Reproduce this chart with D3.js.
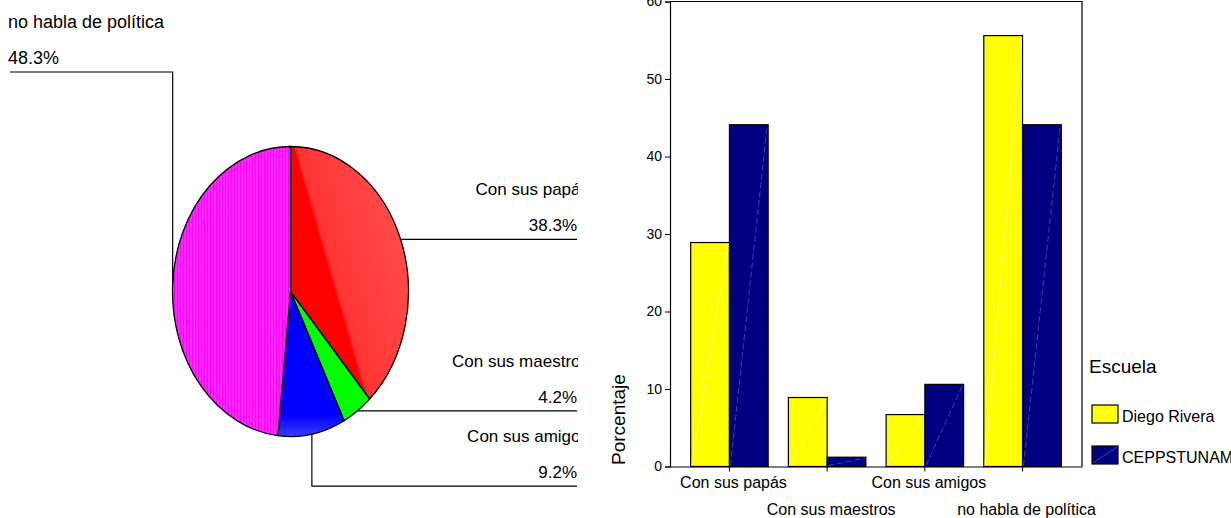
<!DOCTYPE html>
<html>
<head>
<meta charset="utf-8">
<script src="https://cdn.jsdelivr.net/npm/d3@7"></script>
<style>
  body { margin: 0; background: #fff; }
  svg { display: block; font-family: "Liberation Sans", Arial, sans-serif; }
</style>
</head>
<body>
<svg id="chart" width="1231" height="518"></svg>
<script>
// pie data (total)
const pieLabels = ["Con sus papás", "Con sus maestros", "Con sus amigos", "no habla de política"];
const pieValues = [38.3, 4.2, 9.2, 48.3];
const pieColors = ["url(#redShade)", "#00ff00", "url(#blueShade)", "url(#magStripe)"];

// bar data by school
const categories = ["Con sus papás", "Con sus maestros", "Con sus amigos", "no habla de política"];
const schools = ["Diego Rivera", "CEPPSTUNAM"];
const diegoRivera = [28.9, 8.9, 6.7, 55.6];
const ceppstunam = [44.1, 1.2, 10.6, 44.1];
const schoolColors = ["#ffff00", "#000080"];
const yTicks = [0, 10, 20, 30, 40, 50, 60];

const svg = d3.select("#chart");
const defs = svg.append("defs");

// shading for the pie slices (coords are in the pie group's local space)
const rg = defs.append("linearGradient").attr("id", "redShade")
  .attr("gradientUnits", "userSpaceOnUse")
  .attr("x1", 39).attr("y1", -15).attr("x2", 115).attr("y2", -42);
rg.append("stop").attr("offset", 0).attr("stop-color", "#ff0000");
rg.append("stop").attr("offset", 0.04).attr("stop-color", "#ff3434");
rg.append("stop").attr("offset", 1).attr("stop-color", "#ff4c4c");

const bg = defs.append("linearGradient").attr("id", "blueShade")
  .attr("x1", 0).attr("y1", 0).attr("x2", 0).attr("y2", 1);
bg.append("stop").attr("offset", 0).attr("stop-color", "#0000ff");
bg.append("stop").attr("offset", 0.85).attr("stop-color", "#0000ff");
bg.append("stop").attr("offset", 1).attr("stop-color", "#3a3aff");

const mp = defs.append("pattern").attr("id", "magStripe")
  .attr("patternUnits", "userSpaceOnUse").attr("width", 3).attr("height", 6);
mp.append("rect").attr("width", 3).attr("height", 6).attr("fill", "#ff00ff");
mp.append("rect").attr("x", 2).attr("width", 1).attr("height", 6).attr("fill", "#ff50ff");

defs.append("clipPath").attr("id", "leftClip")
  .append("rect").attr("x", 0).attr("y", 0).attr("width", 578).attr("height", 518);

// ---------- PIE ----------
const cx = 290.5, cy = 291.5, rx = 118, ry = 145;

const pie = d3.pie().sort(null).value(d => d);
const arcs = pie(pieValues);
const arc = d3.arc().innerRadius(0).outerRadius(rx);

const pieG = svg.append("g").attr("clip-path", "url(#leftClip)");

pieG.append("g")
  .attr("transform", `translate(${cx},${cy}) scale(1,${ry / rx})`)
  .selectAll("path")
  .data(arcs)
  .enter()
  .append("path")
  .attr("d", arc)
  .attr("fill", (d, i) => pieColors[i])
  .attr("stroke", "#000")
  .attr("stroke-width", 1.3)
  .attr("vector-effect", "non-scaling-stroke");

// leader lines + labels
const edge = a => [cx + rx * Math.sin(a), cy - ry * Math.cos(a)];
const labelLayout = [
  { side: "right", drop: 0 },
  { side: "right", drop: 0 },
  { side: "right", drop: 52 },
  { side: "left", lineY: 72 }
];

arcs.forEach((d, i) => {
  const mid = (d.startAngle + d.endAngle) / 2;
  const [px, py] = edge(mid);
  const lay = labelLayout[i];
  let pts, lineY, tx, anchor, fs;
  if (lay.side === "right") {
    lineY = py + lay.drop;
    pts = lay.drop ? [[px, py], [px, lineY], [577, lineY]] : [[px, py], [577, lineY]];
    tx = 577; anchor = "end"; fs = 17;
  } else {
    lineY = lay.lineY;
    pts = [[px, py], [px, lineY], [10, lineY]];
    tx = 8; anchor = "start"; fs = 18;
  }
  pieG.append("path")
    .attr("d", d3.line()(pts))
    .attr("fill", "none").attr("stroke", "#000").attr("stroke-width", 1.2);
  pieG.append("text")
    .attr("x", anchor === "end" ? tx + 12 : tx).attr("y", lineY - 44)
    .attr("text-anchor", anchor).attr("font-size", fs)
    .text(pieLabels[i]);
  pieG.append("text")
    .attr("x", tx).attr("y", lineY - 8)
    .attr("text-anchor", anchor).attr("font-size", fs)
    .text(d3.format(".1f")(pieValues[i]) + "%");
});

// ---------- BARS ----------
const plotLeft = 670, plotRight = 1082, plotTop = 1.5, plotBottom = 466.5;

const x0 = d3.scaleBand().domain(categories).range([plotLeft, plotRight])
  .paddingInner(0.207).paddingOuter(0.212);
const x1 = d3.scaleBand().domain(schools).range([0, x0.bandwidth()]);
const y = d3.scaleLinear().domain([0, 60]).range([plotBottom, plotTop]);

const series = [diegoRivera, ceppstunam];
const barData = [];
categories.forEach((c, ci) => {
  schools.forEach((s, si) => barData.push({ cat: c, school: s, si, v: series[si][ci] }));
});

// frame top/right
svg.append("path")
  .attr("d", d3.line()([[plotLeft, y(60)], [plotRight, y(60)], [plotRight, y(0)]]))
  .attr("fill", "none").attr("stroke", "#000").attr("stroke-width", 1.2);

const bars = svg.append("g");
bars.selectAll("rect")
  .data(barData)
  .enter()
  .append("rect")
  .attr("x", d => x0(d.cat) + x1(d.school))
  .attr("y", d => y(d.v))
  .attr("width", x1.bandwidth())
  .attr("height", d => y(0) - y(d.v))
  .attr("fill", d => schoolColors[d.si])
  .attr("stroke", "#000")
  .attr("stroke-width", 1.2);

// faint diagonal rendering streak
bars.selectAll("line")
  .data(barData)
  .enter()
  .append("line")
  .attr("x1", d => x0(d.cat) + x1(d.school) + 1)
  .attr("y1", y(0) - 1)
  .attr("x2", d => x0(d.cat) + x1(d.school) + x1.bandwidth() - 1)
  .attr("y2", d => y(d.v) + 1)
  .attr("stroke", d => d.si === 0 ? "#ffffb0" : "#6a6ad0")
  .attr("stroke-width", 0.6)
  .attr("stroke-dasharray", d => d.si === 0 ? null : "6,3");

// y axis
const yAxis = svg.append("g")
  .attr("transform", `translate(${plotLeft},0)`)
  .call(d3.axisLeft(y).tickValues(yTicks).tickSize(5).tickPadding(3));
yAxis.select(".domain").attr("stroke-width", 1.2);
yAxis.selectAll("text").attr("font-size", 14).attr("fill", "#000")
  .attr("font-family", "Liberation Sans, Arial, sans-serif");

// x axis
const xAxis = svg.append("g")
  .attr("transform", `translate(0,${plotBottom})`)
  .call(d3.axisBottom(x0).tickSize(5).tickSizeOuter(0));
xAxis.select(".domain").attr("stroke-width", 1.2);
xAxis.selectAll("text")
  .attr("font-size", 16).attr("fill", "#000")
  .attr("font-family", "Liberation Sans, Arial, sans-serif")
  .attr("dx", 4)
  .attr("y", (d, i) => i % 2 === 0 ? 10 : 37)
  .attr("dy", "0.71em");

svg.append("text")
  .attr("transform", `translate(625,465) rotate(-90)`)
  .attr("font-size", 19)
  .text("Porcentaje");

// legend
const lg = svg.append("g").attr("transform", "translate(1089,0)");
lg.append("text").attr("x", 0).attr("y", 373).attr("font-size", 19).text("Escuela");
const items = lg.selectAll("g.item")
  .data(schools)
  .enter()
  .append("g")
  .attr("class", "item")
  .attr("transform", (d, i) => `translate(3,${405 + i * 41})`);
items.append("rect")
  .attr("width", 26).attr("height", 18)
  .attr("fill", (d, i) => schoolColors[i])
  .attr("stroke", "#000").attr("stroke-width", 1.2);
items.append("line")
  .attr("x1", 1).attr("y1", 17).attr("x2", 25).attr("y2", 1)
  .attr("stroke", (d, i) => i === 0 ? "#ffffb0" : "#6a6ad0").attr("stroke-width", 0.6);
items.append("text")
  .attr("x", 30).attr("y", 17)
  .attr("font-size", 16)
  .text(d => d);
</script>
</body>
</html>
